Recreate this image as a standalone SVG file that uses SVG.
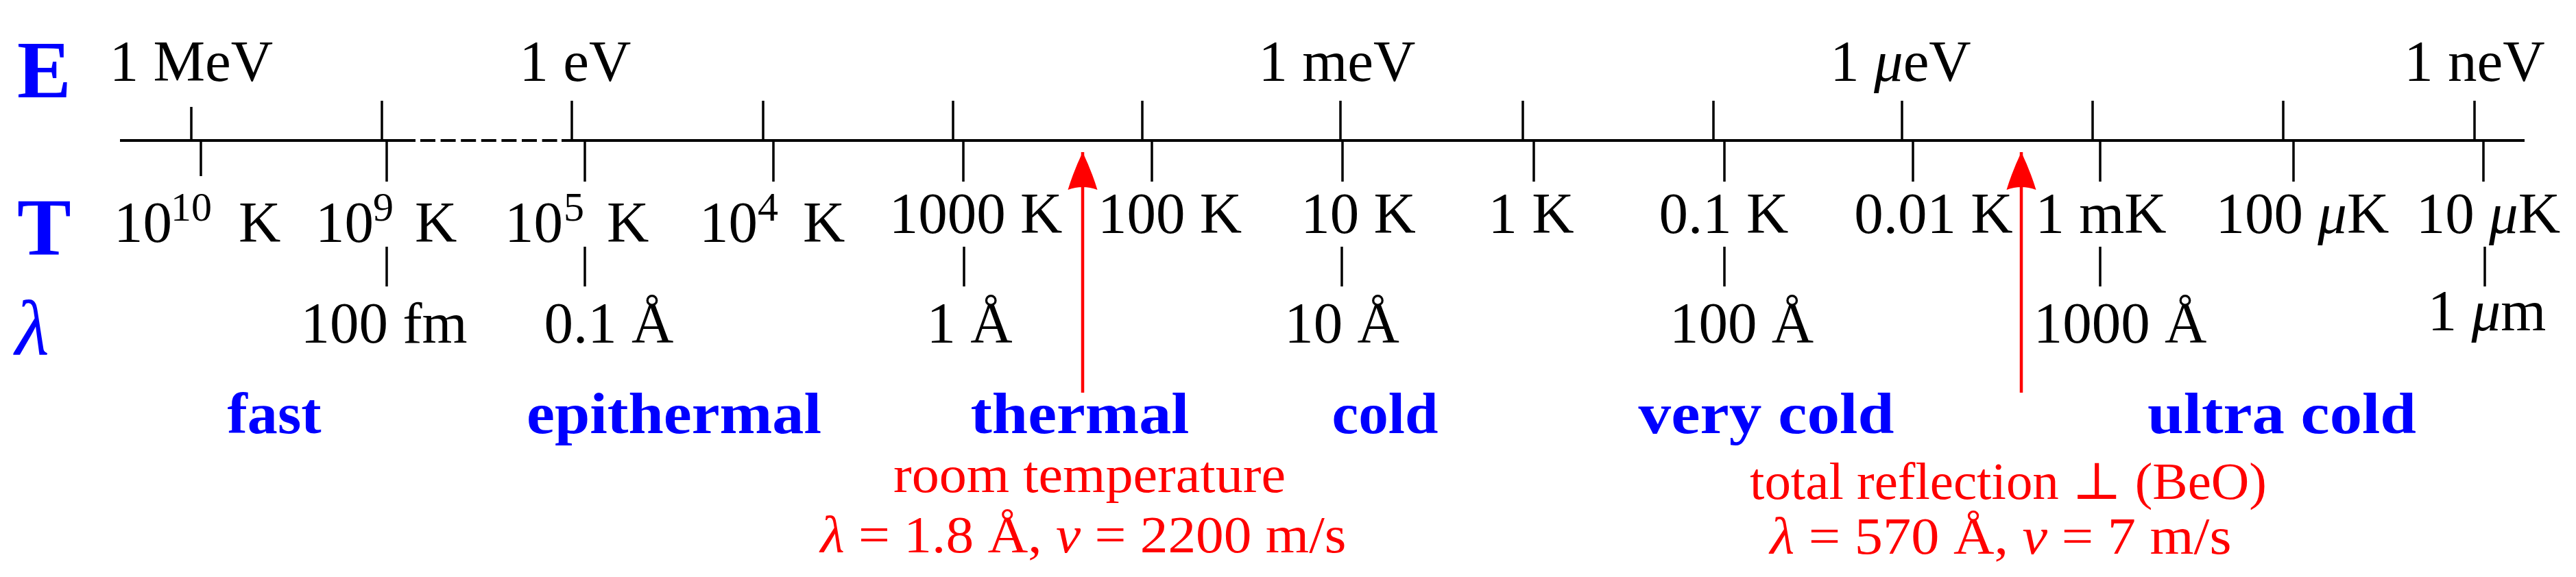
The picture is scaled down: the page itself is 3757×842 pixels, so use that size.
<svg xmlns="http://www.w3.org/2000/svg" width="3757" height="842" viewBox="0 0 3757 842">
<defs>
<style>
text{font-family:"Liberation Serif","DejaVu Serif",serif}
.lbl{font-size:85px;fill:#000}
.mid{text-anchor:middle}
.sup{font-size:60px}
.it{font-style:italic}
.big{font-size:118px;font-weight:bold;fill:#0000ff}
.lam{font-size:115px;font-style:italic;fill:#0000ff}
.cat{font-size:84px;font-weight:bold;fill:#0000ff;text-anchor:middle}
.red{font-size:76px;fill:#ff0000;text-anchor:middle}
.tick{stroke:#000;stroke-width:3.5;fill:none}
.axis{stroke:#000;stroke-width:4;fill:none}
.arrow{stroke:#ff0000;stroke-width:4.5;fill:none;marker-end:url(#ah)}
</style>
<marker id="ah" markerUnits="userSpaceOnUse" viewBox="-60 -25 62 50" markerWidth="62" markerHeight="50" refX="0" refY="0" orient="auto">
<path d="M0,0 Q-28.5,-13.5 -55,-21.5 Q-47,0 -55,21.5 Q-28.5,13.5 0,0 Z" fill="#ff0000"/>
</marker>
</defs>
<rect width="3757" height="842" fill="#fff"/>

<g id="row-headers">
<text class="big" x="25" y="142">E</text>
<text class="big" x="25" y="372">T</text>
<text class="lam" x="22" y="517">λ</text>
</g>

<g id="axis">
<path class="axis" d="M175,205 H606 M819,205 H3682"/>
<path class="axis" d="M613,205 H813" stroke-dasharray="22 7.6"/>
</g>

<g id="ticks-E">
<path class="tick" d="M279,156 V205 M557,147 V205 M834,147 V205 M1113,147 V205 M1390,147 V205 M1666,147 V205 M1955,147 V205 M2221,147 V205 M2499,147 V205 M2774,147 V205 M3052,147 V205 M3330,147 V205 M3609,147 V205"/>
</g>
<g id="ticks-T">
<path class="tick" d="M293,205 V257 M564,205 V265 M853,205 V265 M1128,205 V265 M1405,205 V265 M1680,205 V265 M1958,205 V265 M2237,205 V265 M2515,205 V265 M2790,205 V265 M3063,205 V265 M3345,205 V265 M3622,205 V265"/>
</g>
<g id="ticks-lambda">
<path class="tick" d="M564,360 V418 M853,360 V418 M1406,360 V418 M1957,360 V418 M2515,360 V418 M3063,360 V418 M3624,360 V418"/>
</g>

<g id="labels-E">
<text class="lbl mid" x="279" y="118">1 MeV</text>
<text class="lbl mid" x="839" y="118">1 eV</text>
<text class="lbl mid" x="1950" y="118">1 meV</text>
<text class="lbl mid" x="2772" y="118">1 <tspan class="it">μ</tspan>eV</text>
<text class="lbl mid" x="3609" y="118">1 neV</text>
</g>

<g id="labels-T">
<text class="lbl" y="353"><tspan x="166">10</tspan><tspan class="sup" x="249" y="322">10</tspan><tspan x="348" y="353">K</tspan></text>
<text class="lbl" y="353"><tspan x="460">10</tspan><tspan class="sup" x="544" y="322">9</tspan><tspan x="605" y="353">K</tspan></text>
<text class="lbl" y="353"><tspan x="736">10</tspan><tspan class="sup" x="822" y="322">5</tspan><tspan x="885" y="353">K</tspan></text>
<text class="lbl" y="353"><tspan x="1020">10</tspan><tspan class="sup" x="1105" y="322">4</tspan><tspan x="1171" y="353">K</tspan></text>
<text class="lbl mid" x="1423" y="340">1000 K</text>
<text class="lbl mid" x="1706" y="340">100 K</text>
<text class="lbl mid" x="1981" y="340">10 K</text>
<text class="lbl mid" x="2233" y="340">1 K</text>
<text class="lbl mid" x="2514" y="340">0.1 K</text>
<text class="lbl mid" x="2820" y="340">0.01 K</text>
<text class="lbl mid" x="3064" y="340">1 mK</text>
<text class="lbl mid" x="3358" y="340">100 <tspan class="it">μ</tspan>K</text>
<text class="lbl mid" x="3629" y="340">10 <tspan class="it">μ</tspan>K</text>
</g>

<g id="labels-lambda">
<text class="lbl mid" x="560" y="500">100 fm</text>
<text class="lbl mid" x="888" y="500">0.1 Å</text>
<text class="lbl mid" x="1414" y="500">1 Å</text>
<text class="lbl mid" x="1957" y="500">10 Å</text>
<text class="lbl mid" x="2540" y="500">100 Å</text>
<text class="lbl mid" x="3092" y="500">1000 Å</text>
<text class="lbl mid" x="3627" y="482">1 <tspan class="it">μ</tspan>m</text>
</g>

<g id="categories">
<text class="cat" x="400" y="632" textLength="137" lengthAdjust="spacingAndGlyphs">fast</text>
<text class="cat" x="983" y="632" textLength="430" lengthAdjust="spacingAndGlyphs">epithermal</text>
<text class="cat" x="1575" y="632" textLength="319" lengthAdjust="spacingAndGlyphs">thermal</text>
<text class="cat" x="2020" y="632" textLength="155" lengthAdjust="spacingAndGlyphs">cold</text>
<text class="cat" x="2576" y="632" textLength="373" lengthAdjust="spacingAndGlyphs">very cold</text>
<text class="cat" x="3328" y="632" textLength="392" lengthAdjust="spacingAndGlyphs">ultra cold</text>
</g>

<g id="connectors">
<line class="arrow" x1="1579" y1="573" x2="1579" y2="222"/>
<line class="arrow" x1="2948" y1="573" x2="2948" y2="222"/>
</g>

<g id="note-room">
<text class="red" x="1589" y="718" textLength="572" lengthAdjust="spacingAndGlyphs">room temperature</text>
<text class="red" x="1580" y="806" textLength="767" lengthAdjust="spacingAndGlyphs"><tspan class="it">λ</tspan> = 1.8 Å, <tspan class="it">v</tspan> = 2200 m/s</text>
</g>

<g id="note-reflection">
<text class="red" x="2929" y="728" textLength="754" lengthAdjust="spacingAndGlyphs">total reflection ⊥ (BeO)</text>
<text class="red" x="2918" y="808" textLength="673" lengthAdjust="spacingAndGlyphs"><tspan class="it">λ</tspan> = 570 Å, <tspan class="it">v</tspan> = 7 m/s</text>
</g>
</svg>
